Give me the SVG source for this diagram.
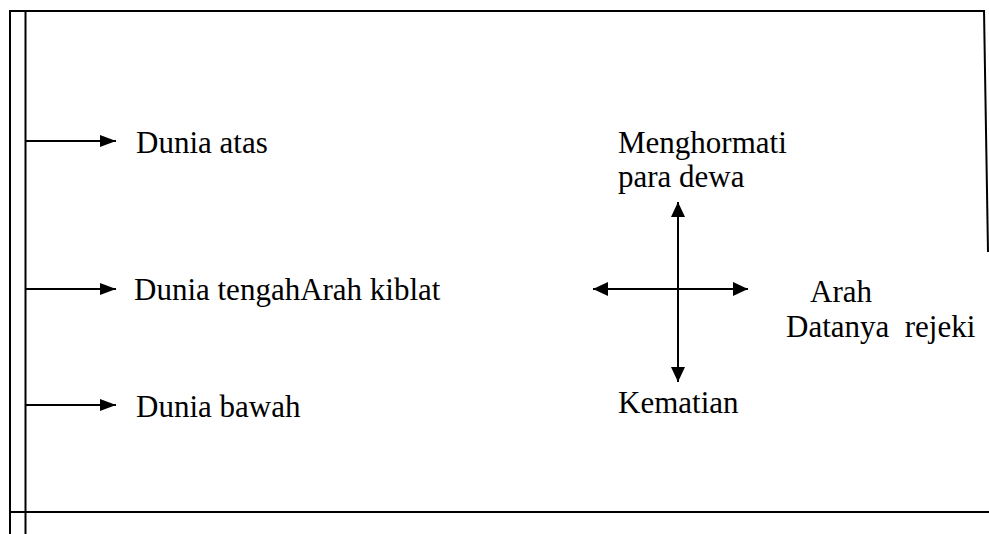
<svg xmlns="http://www.w3.org/2000/svg" width="989" height="534" viewBox="0 0 989 534">
<style>
.frame{stroke:#000;stroke-width:2;fill:none}
.conn{stroke:#000;stroke-width:2;fill:none}
.t{font-family:"Liberation Serif","Times New Roman",serif;font-size:31px;fill:#000}
</style>
<defs>
<marker id="ah" markerUnits="userSpaceOnUse" markerWidth="17" markerHeight="14" refX="16" refY="7" orient="auto">
<path d="M0,1 L16,7 L0,13 z" fill="#000"/>
</marker>
<marker id="ah2" markerUnits="userSpaceOnUse" markerWidth="16" markerHeight="14" refX="15" refY="7" orient="auto-start-reverse">
<path d="M0,0 L15,7 L0,14 z" fill="#000"/>
</marker>
</defs>
<rect width="989" height="534" fill="#fff"/>
<g id="frame">
<line class="frame" x1="10" y1="11" x2="984" y2="11"/>
<line class="frame" x1="10" y1="10" x2="10" y2="534"/>
<line class="frame" x1="25.5" y1="11" x2="25.5" y2="534"/>
<line class="frame" x1="984" y1="10" x2="988" y2="252"/>
<line class="frame" x1="10" y1="512" x2="989" y2="512"/>
</g>
<g id="connectors">
<line class="conn" x1="25" y1="141" x2="116" y2="141" marker-end="url(#ah)"/>
<line class="conn" x1="25" y1="289" x2="116" y2="289" marker-end="url(#ah)"/>
<line class="conn" x1="25" y1="405" x2="116" y2="405" marker-end="url(#ah)"/>
<line class="conn" x1="678" y1="202" x2="678" y2="382" marker-start="url(#ah2)" marker-end="url(#ah2)"/>
<line class="conn" x1="593" y1="289" x2="748" y2="289" marker-start="url(#ah2)" marker-end="url(#ah2)"/>
</g>
<g id="dunia-atas"><text class="t" x="136" y="153">Dunia atas</text></g>
<g id="dunia-tengah"><text class="t" x="134" y="300">Dunia tengahArah kiblat</text></g>
<g id="dunia-bawah"><text class="t" x="136" y="417">Dunia bawah</text></g>
<g id="menghormati"><text class="t" x="618" y="153">Menghormati</text><text class="t" x="618" y="187">para dewa</text></g>
<g id="arah"><text class="t" x="810" y="302">Arah</text><text class="t" x="786" y="337" xml:space="preserve">Datanya  rejeki</text></g>
<g id="kematian"><text class="t" x="618" y="413">Kematian</text></g>
</svg>
